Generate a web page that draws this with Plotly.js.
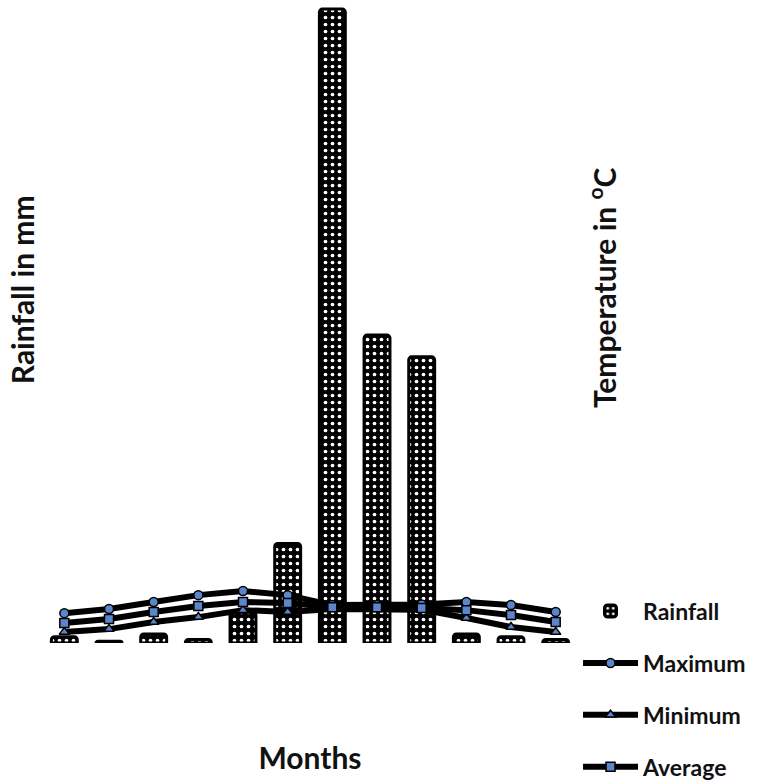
<!DOCTYPE html>
<html>
<head>
<meta charset="utf-8">
<script src="https://cdn.plot.ly/plotly-3.0.1.min.js"></script>
<style>html,body{margin:0;padding:0;background:#fff;}#chart{width:766px;height:784px;}</style>
</head>
<body>
<div id="chart"></div>
<script>
const months = ["Jan","Feb","Mar","Apr","May","Jun","Jul","Aug","Sep","Oct","Nov","Dec"];
const rainfall = [7, 2, 10, 4, 34, 110, 700, 340, 316, 10, 7, 4];
const tempMax = [27.8, 30.4, 34.8, 39.2, 41.8, 39.2, 32.9, 32.9, 33.2, 34.8, 32.9, 28.5];
const tempMin = [15.8, 17.7, 22.2, 25.3, 29.7, 28.5, 30.4, 30.4, 30.0, 24.7, 19.0, 15.8];
const tempAvg = [21.5, 24.1, 28.5, 32.3, 34.8, 34.2, 31.6, 31.6, 31.0, 29.7, 26.6, 22.2];

const FONT = "Lato, 'Open Sans', sans-serif";
const markerBlue = "#5b86c9";

const lineTrace = (name, vals, symbol, grp) => ({
  type: "scatter", mode: "lines+markers", name: name, x: months, y: vals,
  yaxis: "y2", legendgroup: grp,
  line: {color: "#000", width: 6},
  marker: {symbol: symbol, size: 9, color: markerBlue, line: {color: "#000", width: 1.5}}
});

const data = [
  {
    type: "bar", name: "Rainfall", x: months, y: rainfall, legendgroup: "a",
    marker: {
      color: "#000",
      line: {color: "#000", width: 3},
      cornerradius: 3,
      pattern: {shape: ".", bgcolor: "#000", fgcolor: "#fff", size: 7, solidity: 0.22, fillmode: "replace"}
    }
  },
  lineTrace("Maximum", tempMax, "circle", "b"),
  lineTrace("Minimum", tempMin, "triangle-up", "c"),
  lineTrace("Average", tempAvg, "square", "d")
];

const layout = {
  width: 766, height: 784,
  margin: {l: 42, r: 184, t: 0, b: 141},
  paper_bgcolor: "#fff", plot_bgcolor: "#fff",
  font: {family: FONT, color: "#111"},
  bargap: 0.42,
  showlegend: true,
  legend: {
    xref: "container", yref: "container",
    x: 0.7546, xanchor: "left", y: 0.248, yanchor: "top",
    font: {family: FONT, size: 23, color: "#111", weight: "bold"},
    itemwidth: 55, tracegroupgap: 19, traceorder: "grouped",
    bgcolor: "rgba(0,0,0,0)"
  },
  xaxis: {
    type: "category", range: [-0.5, 11.5], showgrid: false, zeroline: false,
    showline: false, showticklabels: false, ticks: "",
    title: {text: "<b>Months</b>", font: {family: FONT, size: 30, color: "#111"}, standoff: 104}
  },
  yaxis: {
    range: [0, 710], showgrid: false, zeroline: false, showline: false,
    showticklabels: false, ticks: ""
  },
  yaxis2: {
    overlaying: "y", side: "right", range: [8.9, 415.9], showgrid: false,
    zeroline: false, showline: false, showticklabels: false, ticks: ""
  },
  annotations: [
    {text: "<b>Rainfall in mm</b>", xref: "paper", yref: "paper", x: -0.037, y: 0.549,
     xanchor: "center", yanchor: "middle",
     textangle: -90, showarrow: false, font: {family: FONT, size: 30, color: "#111"}},
    {text: "<b>Temperature in <sup>o</sup>C</b>", xref: "paper", yref: "paper", x: 1.046, y: 0.553,
     xanchor: "center", yanchor: "middle",
     textangle: -90, showarrow: false, font: {family: FONT, size: 30, color: "#111"}}
  ]
};

Plotly.newPlot("chart", data, layout, {displayModeBar: false, staticPlot: true});
</script>
</body>
</html>
